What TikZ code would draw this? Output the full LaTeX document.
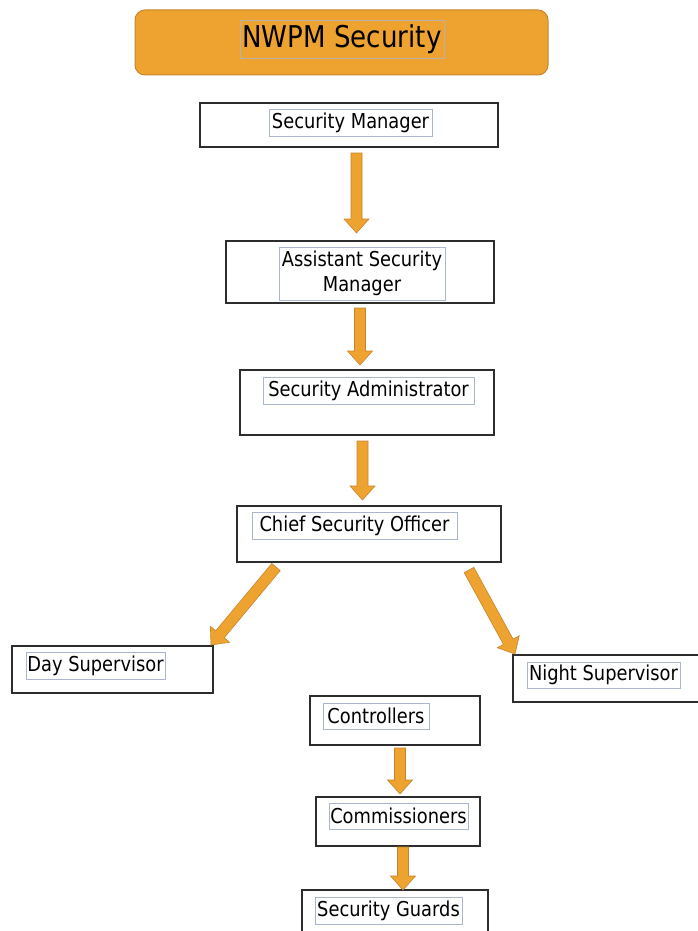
\documentclass[tikz,border=0pt]{standalone}
\usepackage{fontspec}
\setmainfont[FakeStretch=0.87]{DejaVu Sans}
\usetikzlibrary{calc}
\definecolor{orfill}{RGB}{238,163,48}
\definecolor{ordraw}{RGB}{196,134,45}
\definecolor{boxline}{RGB}{45,45,45}
\definecolor{tbline}{RGB}{170,182,205}
\newcommand\blockarrow[2]{%
  \coordinate (ba-h) at ($(#2)!14pt!(#1)$);
  \draw[barrow] ($(#1)!5.5pt!90:(#2)$) -- ($(ba-h)!5.5pt!90:(#2)$) -- ($(ba-h)!12.5pt!90:(#2)$) -- (#2)
    -- ($(ba-h)!12.5pt!-90:(#2)$) -- ($(ba-h)!5.5pt!-90:(#2)$) -- ($(#1)!5.5pt!-90:(#2)$) -- cycle;
}
\begin{document}
\begin{tikzpicture}[x=1pt,y=-1pt,
  box/.style={draw=boxline, line width=1.2pt, fill=white, inner sep=0pt},
  tbox/.style={draw=tbline, line width=0.7pt, inner sep=0pt, font=\fontsize{20.5}{25}\selectfont, text=black, align=center},
  barrow/.style={fill=orfill, draw=ordraw, line width=0.6pt, line join=miter},
  titlebox/.style={draw=ordraw, line width=1pt, fill=orfill, rounded corners=10pt, inner sep=0pt}]
\useasboundingbox (0,0) rectangle (697,931);
% title
\node[titlebox, minimum width=413pt, minimum height=65pt] (title) at (341.5,42.5) {};
\node[tbox, font=\fontsize{30}{35}\selectfont, draw=tbline!80!orfill, minimum width=204pt, minimum height=38pt] (titlet) at (342,39) {NWPM Security};
% boxes
\node[box, minimum width=298pt, minimum height=44pt] (sm) at (349,125) {};
\node[box, minimum width=268pt, minimum height=62pt] (asm) at (360,272) {};
\node[box, minimum width=254pt, minimum height=65pt] (sa) at (367,402.5) {};
\node[box, minimum width=264pt, minimum height=56pt] (cso) at (369,534) {};
\node[box, minimum width=201pt, minimum height=47pt] (day) at (112.5,669.5) {};
\node[box, minimum width=190pt, minimum height=47pt] (night) at (608,678.5) {};
\node[box, minimum width=170pt, minimum height=49pt] (ctrl) at (395,720.5) {};
\node[box, minimum width=164pt, minimum height=49pt] (com) at (398,821.5) {};
\node[box, minimum width=186pt, minimum height=46pt] (sg) at (395,913) {};
% texts
\node[tbox, minimum width=163pt, minimum height=27pt] (smt) at (350.5,122.5) {Security Manager};
\node[tbox, minimum width=166pt, minimum height=53pt] (asmt) at (362,273.5) {Assistant Security\\Manager};
\node[tbox, minimum width=211pt, minimum height=27pt] (sat) at (368.5,390.5) {Security Administrator};
\node[tbox, minimum width=205pt, minimum height=27pt] (csot) at (354.5,526) {Chief Security Officer};
\node[tbox, minimum width=139pt, minimum height=27pt] (dayt) at (95.5,665.5) {Day Supervisor};
\node[tbox, minimum width=153pt, minimum height=26pt] (nightt) at (603.5,675) {Night Supervisor};
\node[tbox, minimum width=106pt, minimum height=26pt] (ctrlt) at (376,716) {Controllers};
\node[tbox, minimum width=139pt, minimum height=26pt] (comt) at (398.5,816) {Commissioners};
\node[tbox, minimum width=147pt, minimum height=27pt] (sgt) at (388.5,910.5) {Security Guards};
% arrow end points
\coordinate (a1t) at (356.5,153);  \coordinate (a1h) at (356.5,233);
\coordinate (a2t) at (360,308);    \coordinate (a2h) at (360,365);
\coordinate (a3t) at (362.5,441);  \coordinate (a3h) at (362.5,500);
\coordinate (a4t) at (276,567);    \coordinate (a4h) at (211,645);
\coordinate (a5t) at (469,570);    \coordinate (a5h) at (515,654);
\coordinate (a6t) at (400,748);    \coordinate (a6h) at (400,794);
\coordinate (a7t) at (403,847);    \coordinate (a7h) at (403,890);
\blockarrow{a1t}{a1h}
\blockarrow{a2t}{a2h}
\blockarrow{a3t}{a3h}
\blockarrow{a4t}{a4h}
\blockarrow{a5t}{a5h}
\blockarrow{a6t}{a6h}
\blockarrow{a7t}{a7h}
\end{tikzpicture}
\end{document}
